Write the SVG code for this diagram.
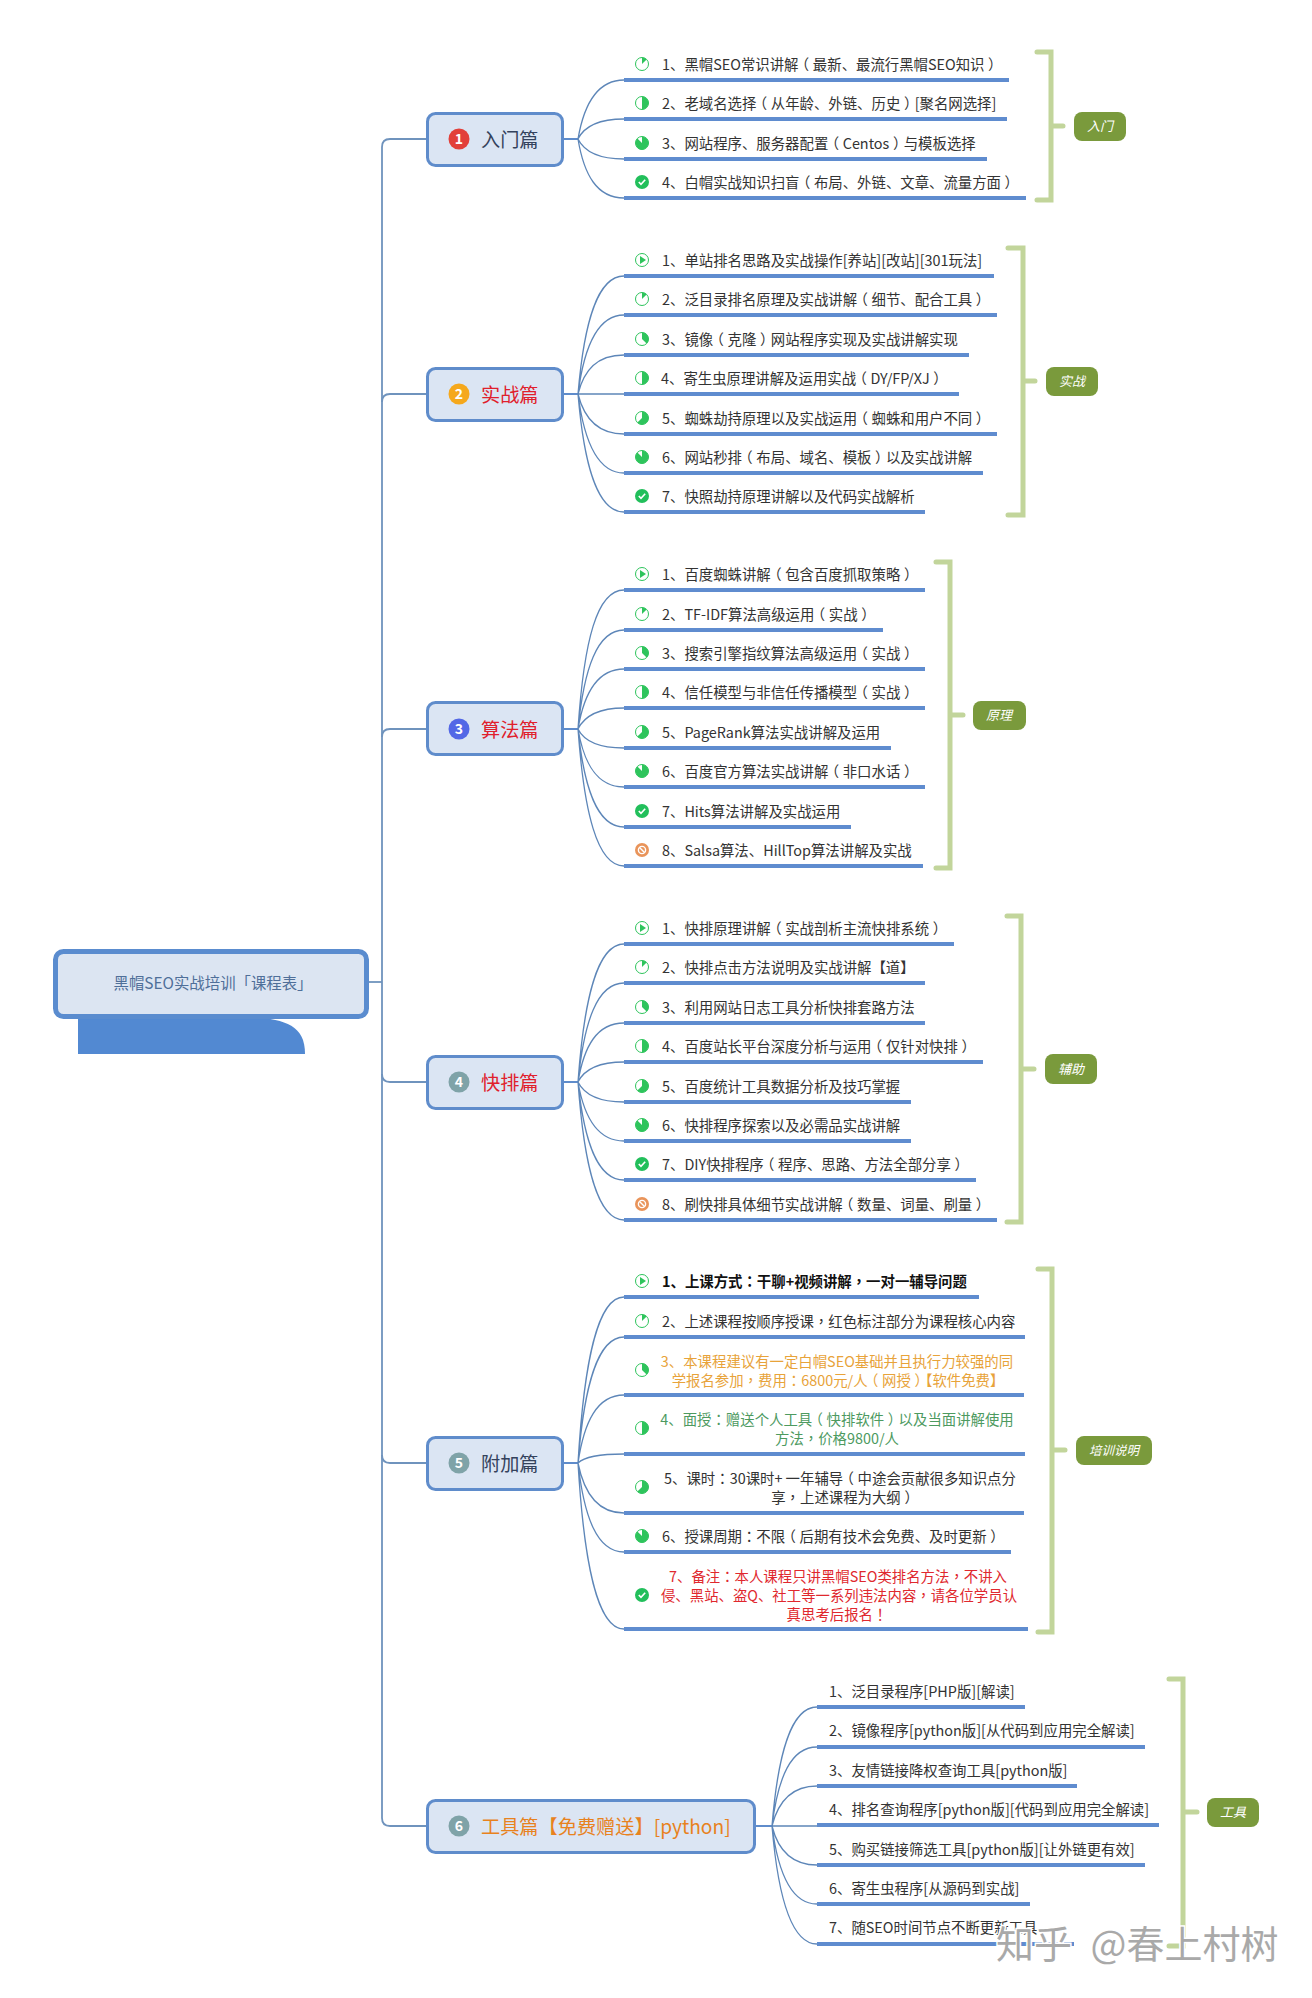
<svg xmlns="http://www.w3.org/2000/svg" width="1312" height="1998" viewBox="0 0 1312 1998">
<style>
text{font-family:"Noto Sans CJK SC","Noto Sans",sans-serif}
.t{font-size:14.4px;fill:#333;transform:translateY(.7px)}
.m{text-anchor:middle}
.y{font-family:"Noto Sans CJK TC","Noto Sans",sans-serif}
.u{fill:#5f8ccf}
.n{fill:#dbe5f3;stroke:#5f8ccb;stroke-width:3}
.nt{font-size:19.2px;transform:translateY(1px)}
.num{font-size:14px;font-weight:700;fill:#fff;text-anchor:middle}
.br{fill:none;stroke:#c2d59b;stroke-width:5;stroke-linecap:round}
.lb{fill:#7a9a3c}
.lt{font-size:13px;font-style:italic;fill:#fff;text-anchor:middle}
.c{fill:none;stroke:#5d86b8;stroke-width:1.3}
.s{fill:none;stroke:#5f8ccb;stroke-width:2}
.tr{fill:none;stroke:#6f93bd;stroke-width:1.8}
</style>
<defs>
<g id="play"><circle r="6.5" fill="#fff" stroke="#2ec45c"/><path d="M-2-4L4 0L-2 4Z" fill="#2ec45c"/></g>
<g id="p1"><circle r="6.5" fill="#fff" stroke="#2ec45c"/><path d="M0 0V-6.5A6.5 6.5 0 0 1 4.6-4.6Z" fill="#2ec45c"/></g>
<g id="p3"><circle r="6.5" fill="#fff" stroke="#2ec45c"/><path d="M0 0V-6.5A6.5 6.5 0 0 1 4.6 4.6Z" fill="#2ec45c"/></g>
<g id="p4"><circle r="6.5" fill="#fff" stroke="#2ec45c"/><path d="M0-6.5A6.5 6.5 0 0 1 0 6.5Z" fill="#2ec45c"/></g>
<g id="p5"><circle r="6.5" fill="#fff" stroke="#2ec45c"/><path d="M0 0V-6.5A6.5 6.5 0 1 1 -4.6 4.6Z" fill="#2ec45c"/></g>
<g id="p7"><circle r="6.5" fill="#fff" stroke="#2ec45c"/><path d="M0 0V-6.5A6.5 6.5 0 1 1 -4.6 -4.6Z" fill="#2ec45c"/></g>
<g id="ok"><circle r="7" fill="#22bf5b"/><path d="M-3.2 0L-1 2.4L3.2-2.2" fill="none" stroke="#fff" stroke-width="1.6"/></g>
<g id="no"><circle r="7" fill="#e9945a"/><circle r="3.6" fill="none" stroke="#fff" stroke-width="1.4"/><path d="M-2.5-2.5L2.5 2.5" stroke="#fff" stroke-width="1.4"/></g>
</defs>
<rect width="1312" height="1998" fill="#fff"/>

<g id="connectors">
<path class="tr" d="M427 139H390Q382 139 382 147V1818Q382 1826 390 1826H427"/>
<path class="tr" d="M427 394H390Q382 394 382 402"/>
<path class="tr" d="M427 729H390Q382 729 382 737"/>
<path class="tr" d="M369 982H382"/>
<path class="tr" d="M382 1074Q382 1082 390 1082H427"/>
<path class="tr" d="M382 1455Q382 1463 390 1463H427"/>
<path class="s" d="M563 139H578M563 394H578M563 729H578M563 1082H578M563 1463H578M755 1826H772"/>
<path class="c" d="M578 139C584 104 597 80 624 80M578 139C584 127 597 119 624 119M578 139C584 151 597 159 624 159M578 139C584 175 597 198 624 198"/>
<path class="c" d="M578 394C584 323 597 276 624 276M578 394C584 347 597 315 624 315M578 394C584 370 597 355 624 355M578 394H624M578 394C584 418 597 434 624 434M578 394C584 441 597 473 624 473M578 394C584 465 597 512 624 512"/>
<path class="c" d="M578 729C584 640 597 590 624 590M578 729C584 669 597 630 624 630M578 729C584 693 597 669 624 669M578 729C584 717 597 708 624 708M578 729C584 741 597 748 624 748M578 729C584 764 597 787 624 787M578 729C584 788 597 827 624 827M578 729C584 812 597 866 624 866"/>
<path class="c" d="M578 1082C584 999 597 944 624 944M578 1082C584 1022 597 983 624 983M578 1082C584 1046 597 1023 624 1023M578 1082C584 1070 597 1062 624 1062M578 1082C584 1094 597 1102 624 1102M578 1082C584 1117 597 1141 624 1141M578 1082C584 1141 597 1180 624 1180M578 1082C584 1165 597 1220 624 1220"/>
<path class="c" d="M578 1463C584 1363 597 1297 624 1297M578 1463C584 1387 597 1337 624 1337M578 1463C584 1422 597 1395 624 1395M578 1463C584 1457 597 1454 624 1454M578 1463C584 1493 597 1513 624 1513M578 1463C584 1517 597 1552 624 1552M578 1463C584 1563 597 1629 624 1629"/>
<path class="c" d="M772 1826C778 1753 791 1707 817 1707M772 1826C778 1777 791 1747 817 1747M772 1826C778 1802 791 1786 817 1786M772 1826H817M772 1826C778 1850 791 1865 817 1865M772 1826C778 1873 791 1904 817 1904M772 1826C778 1897 791 1944 817 1944"/>
</g>

<g id="root">
<path d="M78 1017H253C285 1020 305 1025 305 1054H78Z" fill="#5289d2"/>
<rect x="55.5" y="951.5" width="311" height="65" rx="8" fill="#dce5f2" stroke="#5a8ccf" stroke-width="5"/>
<text x="213" y="988.5" font-size="15.4" fill="#4f6f99" class="m">黑帽SEO实战培训「课程表」</text>
</g>

<g id="topic-1"><rect class="n" x="427.5" y="113.5" width="135" height="52" rx="8"/><circle cx="459" cy="139" r="10.5" fill="#e2403a"/><text class="num" x="459" y="144">1</text><text class="nt" x="481" y="146" fill="#34425c">入门篇</text></g>
<g id="topic-2"><rect class="n" x="427.5" y="368.5" width="135" height="52" rx="8"/><circle cx="459" cy="394" r="10.5" fill="#f5a81c"/><text class="num" x="459" y="399">2</text><text class="nt" x="481" y="401" fill="#e0202c">实战篇</text></g>
<g id="topic-3"><rect class="n" x="427.5" y="702.5" width="135" height="52" rx="8"/><circle cx="459" cy="729" r="10.5" fill="#5368e6"/><text class="num" x="459" y="734">3</text><text class="nt" x="481" y="736" fill="#e0202c">算法篇</text></g>
<g id="topic-4"><rect class="n" x="427.5" y="1056.5" width="135" height="52" rx="8"/><circle cx="459" cy="1082" r="10.5" fill="#7fa3a8"/><text class="num" x="459" y="1087">4</text><text class="nt" x="481" y="1089" fill="#e0202c">快排篇</text></g>
<g id="topic-5"><rect class="n" x="427.5" y="1437.5" width="135" height="52" rx="8"/><circle cx="459" cy="1463" r="10.5" fill="#7fa3a8"/><text class="num" x="459" y="1468">5</text><text class="nt" x="481" y="1470" fill="#34425c">附加篇</text></g>
<g id="topic-6"><rect class="n" x="427.5" y="1800.5" width="327" height="52" rx="8"/><circle cx="459" cy="1826" r="10.5" fill="#7fa3a8"/><text class="num" x="459" y="1831">6</text><text class="nt" x="481" y="1833" fill="#e8821e">工具篇【免费赠送】[python]</text></g>

<g id="s1-1"><rect class="u" x="624" y="78" width="385" height="4"/><use href="#p1" x="642" y="64"/><text class="t" x="662" y="69">1、黑帽SEO常识讲解<tspan dx="-3.6">（</tspan><tspan dx="3.6">最新、最流行黑帽SEO知识</tspan><tspan dx="3.6">）</tspan></text></g>
<g id="s1-2"><rect class="u" x="624" y="117" width="383" height="4"/><use href="#p4" x="642" y="103"/><text class="t" x="662" y="108">2、老域名选择<tspan dx="-3.6">（</tspan><tspan dx="3.6">从年龄、外链、历史</tspan><tspan dx="3.6">）</tspan><tspan dx="-3.6">[聚名网选择]</tspan></text></g>
<g id="s1-3"><rect class="u" x="624" y="157" width="363" height="4"/><use href="#p7" x="642" y="143"/><text class="t" x="662" y="148">3、网站程序、服务器配置<tspan dx="-3.6">（</tspan><tspan dx="3.6">Centos</tspan><tspan dx="3.6">）</tspan><tspan dx="-3.6">与模板选择</tspan></text></g>
<g id="s1-4"><rect class="u" x="624" y="196" width="402" height="4"/><use href="#ok" x="642" y="182"/><text class="t" x="662" y="187">4、白帽实战知识扫盲<tspan dx="-3.6">（</tspan><tspan dx="3.6">布局、外链、文章、流量方面</tspan><tspan dx="3.6">）</tspan></text></g>

<g id="s2-1"><rect class="u" x="624" y="274" width="370" height="4"/><use href="#play" x="642" y="260"/><text class="t" x="662" y="265">1、单站排名思路及实战操作[养站][改站][301玩法]</text></g>
<g id="s2-2"><rect class="u" x="624" y="313" width="373" height="4"/><use href="#p1" x="642" y="299"/><text class="t" x="662" y="304">2、泛目录排名原理及实战讲解<tspan dx="-3.6">（</tspan><tspan dx="3.6">细节、配合工具</tspan><tspan dx="3.6">）</tspan></text></g>
<g id="s2-3"><rect class="u" x="624" y="353" width="345" height="4"/><use href="#p3" x="642" y="339"/><text class="t" x="662" y="344">3、镜像<tspan dx="-3.6">（</tspan><tspan dx="3.6">克隆</tspan><tspan dx="3.6">）</tspan><tspan dx="-3.6">网站程序实现及实战讲解实现</tspan></text></g>
<g id="s2-4"><rect class="u" x="624" y="392" width="335" height="4"/><use href="#p4" x="642" y="378"/><text class="t" x="661" y="383">4、寄生虫原理讲解及运用实战<tspan dx="-3.6">（</tspan><tspan dx="3.6">DY/FP/XJ</tspan><tspan dx="3.6">）</tspan></text></g>
<g id="s2-5"><rect class="u" x="624" y="432" width="373" height="4"/><use href="#p5" x="642" y="418"/><text class="t" x="662" y="423">5、蜘蛛劫持原理以及实战运用<tspan dx="-3.6">（</tspan><tspan dx="3.6">蜘蛛和用户不同</tspan><tspan dx="3.6">）</tspan></text></g>
<g id="s2-6"><rect class="u" x="624" y="471" width="359" height="4"/><use href="#p7" x="642" y="457"/><text class="t" x="662" y="462">6、网站秒排<tspan dx="-3.6">（</tspan><tspan dx="3.6">布局、域名、模板</tspan><tspan dx="3.6">）</tspan><tspan dx="-3.6">以及实战讲解</tspan></text></g>
<g id="s2-7"><rect class="u" x="624" y="510" width="301" height="4"/><use href="#ok" x="642" y="496"/><text class="t" x="662" y="501">7、快照劫持原理讲解以及代码实战解析</text></g>

<g id="s3-1"><rect class="u" x="624" y="588" width="301" height="4"/><use href="#play" x="642" y="574"/><text class="t" x="662" y="579">1、百度蜘蛛讲解<tspan dx="-3.6">（</tspan><tspan dx="3.6">包含百度抓取策略</tspan><tspan dx="3.6">）</tspan></text></g>
<g id="s3-2"><rect class="u" x="624" y="628" width="259" height="4"/><use href="#p1" x="642" y="614"/><text class="t" x="662" y="619">2、TF-IDF算法高级运用<tspan dx="-3.6">（</tspan><tspan dx="3.6">实战</tspan><tspan dx="3.6">）</tspan></text></g>
<g id="s3-3"><rect class="u" x="624" y="667" width="301" height="4"/><use href="#p3" x="642" y="653"/><text class="t" x="662" y="658">3、搜索引擎指纹算法高级运用<tspan dx="-3.6">（</tspan><tspan dx="3.6">实战</tspan><tspan dx="3.6">）</tspan></text></g>
<g id="s3-4"><rect class="u" x="624" y="706" width="301" height="4"/><use href="#p4" x="642" y="692"/><text class="t" x="662" y="697">4、信任模型与非信任传播模型<tspan dx="-3.6">（</tspan><tspan dx="3.6">实战</tspan><tspan dx="3.6">）</tspan></text></g>
<g id="s3-5"><rect class="u" x="624" y="746" width="267" height="4"/><use href="#p5" x="642" y="732"/><text class="t" x="662" y="737">5、PageRank算法实战讲解及运用</text></g>
<g id="s3-6"><rect class="u" x="624" y="785" width="301" height="4"/><use href="#p7" x="642" y="771"/><text class="t" x="662" y="776">6、百度官方算法实战讲解<tspan dx="-3.6">（</tspan><tspan dx="3.6">非口水话</tspan><tspan dx="3.6">）</tspan></text></g>
<g id="s3-7"><rect class="u" x="624" y="825" width="227" height="4"/><use href="#ok" x="642" y="811"/><text class="t" x="662" y="816">7、Hits算法讲解及实战运用</text></g>
<g id="s3-8"><rect class="u" x="624" y="864" width="299" height="4"/><use href="#no" x="642" y="850"/><text class="t" x="662" y="855">8、Salsa算法、HillTop算法讲解及实战</text></g>

<g id="s4-1"><rect class="u" x="624" y="942" width="330" height="4"/><use href="#play" x="642" y="928"/><text class="t" x="662" y="933">1、快排原理讲解<tspan dx="-3.6">（</tspan><tspan dx="3.6">实战剖析主流快排系统</tspan><tspan dx="3.6">）</tspan></text></g>
<g id="s4-2"><rect class="u" x="624" y="981" width="301" height="4"/><use href="#p1" x="642" y="967"/><text class="t" x="662" y="972">2、快排点击方法说明及实战讲解【道】</text></g>
<g id="s4-3"><rect class="u" x="624" y="1021" width="301" height="4"/><use href="#p3" x="642" y="1007"/><text class="t" x="662" y="1012">3、利用网站日志工具分析快排套路方法</text></g>
<g id="s4-4"><rect class="u" x="624" y="1060" width="359" height="4"/><use href="#p4" x="642" y="1046"/><text class="t" x="662" y="1051">4、百度站长平台深度分析与运用<tspan dx="-3.6">（</tspan><tspan dx="3.6">仅针对快排</tspan><tspan dx="3.6">）</tspan></text></g>
<g id="s4-5"><rect class="u" x="624" y="1100" width="287" height="4"/><use href="#p5" x="642" y="1086"/><text class="t" x="662" y="1091">5、百度统计工具数据分析及技巧掌握</text></g>
<g id="s4-6"><rect class="u" x="624" y="1139" width="287" height="4"/><use href="#p7" x="642" y="1125"/><text class="t" x="662" y="1130">6、快排程序探索以及必需品实战讲解</text></g>
<g id="s4-7"><rect class="u" x="624" y="1178" width="352" height="4"/><use href="#ok" x="642" y="1164"/><text class="t" x="662" y="1169">7、DIY快排程序<tspan dx="-3.6">（</tspan><tspan dx="3.6">程序、思路、方法全部分享</tspan><tspan dx="3.6">）</tspan></text></g>
<g id="s4-8"><rect class="u" x="624" y="1218" width="373" height="4"/><use href="#no" x="642" y="1204"/><text class="t" x="662" y="1209">8、刷快排具体细节实战讲解<tspan dx="-3.6">（</tspan><tspan dx="3.6">数量、词量、刷量</tspan><tspan dx="3.6">）</tspan></text></g>

<g id="s5-1"><rect class="u" x="624" y="1295" width="355" height="4"/><use href="#play" x="642" y="1281"/><text class="t" x="662" y="1286" font-weight="700" style="fill:#111">1、上课方式<tspan class="y">：</tspan>干聊+视频讲解<tspan class="y">，</tspan>一对一辅导问题</text></g>
<g id="s5-2"><rect class="u" x="624" y="1335" width="401" height="4"/><use href="#p1" x="642" y="1321"/><text class="t" x="662" y="1326">2、上述课程按顺序授课<tspan class="y">，</tspan>红色标注部分为课程核心内容</text></g>
<g id="s5-3"><rect class="u" x="624" y="1393" width="400" height="4"/><use href="#p3" x="642" y="1370"/><text class="t m" x="837" y="1366" style="fill:#e8a33a">3、本课程建议有一定白帽SEO基础并且执行力较强的同</text><text class="t m" x="838" y="1385" style="fill:#e8a33a">学报名参加<tspan class="y">，</tspan>费用<tspan class="y">：</tspan>6800元/人<tspan dx="-3.6">（</tspan><tspan dx="3.6">网授</tspan><tspan dx="3.6">）</tspan><tspan dx="-3.6">【软件免费】</tspan></text></g>
<g id="s5-4"><rect class="u" x="624" y="1452" width="401" height="4"/><use href="#p4" x="642" y="1428"/><text class="t m" x="837" y="1424" style="fill:#4d9a5f">4、面授<tspan class="y">：</tspan>赠送个人工具<tspan dx="-3.6">（</tspan><tspan dx="3.6">快排软件</tspan><tspan dx="3.6">）</tspan><tspan dx="-3.6">以及当面讲解使用</tspan></text><text class="t m" x="837" y="1443" style="fill:#4d9a5f">方法<tspan class="y">，</tspan>价格9800/人</text></g>
<g id="s5-5"><rect class="u" x="624" y="1511" width="400" height="4"/><use href="#p5" x="642" y="1487"/><text class="t m" x="840" y="1483">5、课时<tspan class="y">：</tspan>30课时+ 一年辅导<tspan dx="-3.6">（</tspan><tspan dx="3.6">中途会贡献很多知识点分</tspan></text><text class="t m" x="845" y="1502">享<tspan class="y">，</tspan>上述课程为大纲<tspan dx="3.6">）</tspan></text></g>
<g id="s5-6"><rect class="u" x="624" y="1550" width="387" height="4"/><use href="#p7" x="642" y="1536"/><text class="t" x="662" y="1541">6、授课周期<tspan class="y">：</tspan>不限<tspan dx="-3.6">（</tspan><tspan dx="3.6">后期有技术会免费、及时更新</tspan><tspan dx="3.6">）</tspan></text></g>
<g id="s5-7"><rect class="u" x="624" y="1627" width="404" height="4"/><use href="#ok" x="642" y="1595"/><text class="t m" x="838" y="1581" style="fill:#e0282e">7、备注<tspan class="y">：</tspan>本人课程只讲黑帽SEO类排名方法<tspan class="y">，</tspan>不讲入</text><text class="t m" x="839" y="1600" style="fill:#e0282e">侵、黑站、盗Q、社工等一系列违法内容<tspan class="y">，</tspan>请各位学员认</text><text class="t m" x="837" y="1619" style="fill:#e0282e">真思考后报名<tspan class="y">！</tspan></text></g>

<g id="s6-1"><rect class="u" x="817" y="1705" width="208" height="4"/><text class="t" x="829" y="1696">1、泛目录程序[PHP版][解读]</text></g>
<g id="s6-2"><rect class="u" x="817" y="1745" width="328" height="4"/><text class="t" x="829" y="1735">2、镜像程序[python版][从代码到应用完全解读]</text></g>
<g id="s6-3"><rect class="u" x="817" y="1784" width="260" height="4"/><text class="t" x="829" y="1775">3、友情链接降权查询工具[python版]</text></g>
<g id="s6-4"><rect class="u" x="817" y="1823" width="342" height="4"/><text class="t" x="829" y="1814">4、排名查询程序[python版][代码到应用完全解读]</text></g>
<g id="s6-5"><rect class="u" x="817" y="1863" width="328" height="4"/><text class="t" x="829" y="1854">5、购买链接筛选工具[python版][让外链更有效]</text></g>
<g id="s6-6"><rect class="u" x="817" y="1902" width="213" height="4"/><text class="t" x="829" y="1893">6、寄生虫程序[从源码到实战]</text></g>
<g id="s6-7"><rect class="u" x="817" y="1942" width="257" height="4"/><text class="t" x="829" y="1932">7、随SEO时间节点不断更新工具...</text></g>

<g id="summary-1"><path class="br" d="M1037 52H1051V200H1037M1051 126H1063"/><rect class="lb" x="1074" y="112" width="52" height="29" rx="8"/><text class="lt" x="1100" y="131">入门</text></g>
<g id="summary-2"><path class="br" d="M1008 248H1023V515H1008M1023 381H1035"/><rect class="lb" x="1046" y="367" width="52" height="29" rx="8"/><text class="lt" x="1072" y="386">实战</text></g>
<g id="summary-3"><path class="br" d="M936 562H950V868H936M950 715H963"/><rect class="lb" x="973" y="701" width="53" height="29" rx="8"/><text class="lt" x="999" y="720">原理</text></g>
<g id="summary-4"><path class="br" d="M1007 916H1021V1222H1007M1021 1069H1034"/><rect class="lb" x="1045" y="1054" width="52" height="30" rx="8"/><text class="lt" x="1071" y="1074">辅助</text></g>
<g id="summary-5"><path class="br" d="M1038 1269H1052V1632H1038M1052 1450H1065"/><rect class="lb" x="1076" y="1436" width="76" height="29" rx="8"/><text class="lt" x="1114" y="1455" style="font-size:12.5px">培训说明</text></g>
<g id="summary-6"><path class="br" d="M1169 1679H1183V1946H1169M1183 1812H1197"/><rect class="lb" x="1207" y="1798" width="52" height="29" rx="8"/><text class="lt" x="1233" y="1817">工具</text></g>

<text x="996" y="1958" font-size="38" word-spacing="10" fill="#a9a9a9" stroke="#fff" stroke-width="3" paint-order="stroke">知乎 @春上村树</text>
</svg>
